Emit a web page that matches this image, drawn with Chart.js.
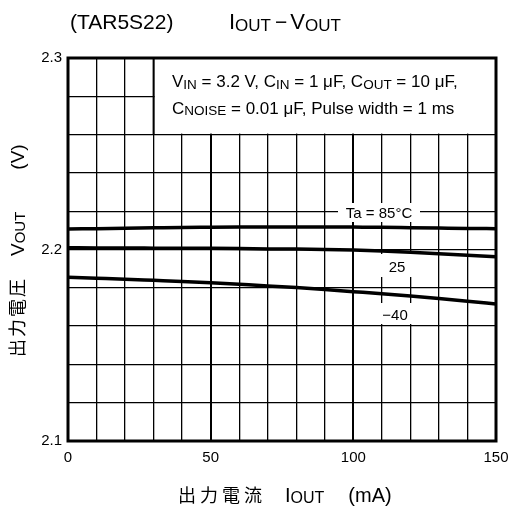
<!DOCTYPE html>
<html><head><meta charset="utf-8">
<script src="https://cdn.jsdelivr.net/npm/chart.js@4.4.1/dist/chart.umd.min.js"></script>
<style>html,body{margin:0;padding:0;background:#fff;overflow:hidden}canvas{display:block}</style>
</head><body>
<canvas id="c" width="510" height="511"></canvas>
<script>
// ---- data ----
const currents = [0,10,20,30,40,50,60,70,80,90,100,110,120,130,140,150]; // mA
const vout85  = [2.2107,2.2109,2.2111,2.2113,2.2115,2.2116,2.2117,2.2118,2.2118,2.2118,2.2117,2.2116,2.2114,2.2112,2.2110,2.2109];
const vout25  = [2.2009,2.2008,2.2008,2.2007,2.2006,2.2006,2.2005,2.2003,2.2002,2.2000,2.1997,2.1992,2.1986,2.1978,2.1970,2.1962];
const voutM40 = [2.1855,2.1850,2.1845,2.1839,2.1833,2.1826,2.1818,2.1810,2.1801,2.1791,2.1780,2.1769,2.1757,2.1744,2.1730,2.1715];
const xTickLabels = [0,50,100,150];
const yTickLabels = [2.1,2.2,2.3];
const seriesLabels = ['Ta = 85°C','25','−40'];

const LS = '"Liberation Sans", Arial, sans-serif';
const CJK = '"Noto Sans CJK JP", sans-serif';

function pts(vals){ return currents.map((x,i)=>({x:x,y:vals[i]})); }

function drawRich(ctx, x, y, segs){
  let cx = x;
  for (const s of segs){
    if (s.gap){ cx += s.gap; continue; }
    ctx.font = s.font;
    ctx.letterSpacing = (s.ls||0)+'px';
    ctx.fillText(s.t, cx, y + (s.dy||0));
    cx += ctx.measureText(s.t).width;
    ctx.letterSpacing = '0px';
  }
  return cx - x;
}

const decor = {
  id:'decor',
  beforeDatasetsDraw(chart){
    const ctx = chart.ctx, a = chart.chartArea;
    const xs = chart.scales.x, ys = chart.scales.y;
    ctx.save();
    ctx.fillStyle = '#fff';
    // condition box
    const bx = xs.getPixelForValue(30), by = ys.getPixelForValue(2.26);
    ctx.fillRect(bx+1, a.top, a.right-bx-1, by-a.top-1);
    ctx.strokeStyle='#000'; ctx.lineWidth=2;
    ctx.beginPath(); ctx.moveTo(bx, a.top); ctx.lineTo(bx, by); ctx.stroke();
    // label backgrounds
    ctx.fillRect(338, 203, 82, 19);
    ctx.fillRect(379, 254, 35, 23);
    ctx.fillRect(379, 303, 35, 21);
    ctx.restore();
  },
  afterDraw(chart){
    const ctx = chart.ctx, a = chart.chartArea;
    ctx.save();
    ctx.strokeStyle = '#000'; ctx.lineWidth = 3;
    ctx.strokeRect(a.left, a.top, a.right-a.left, a.bottom-a.top);
    ctx.fillStyle = '#000';
    ctx.textBaseline = 'alphabetic'; ctx.textAlign = 'left';
    // title
    drawRich(ctx, 70, 29, [{t:'(TAR5S22)', font:'21px '+LS}]);
    drawRich(ctx, 229, 29, [{t:'I', font:'22px '+LS},{t:'OUT', font:'17px '+LS, dy:2},{gap:4},{t:'−', font:'21px '+LS},{gap:3},{t:'V', font:'22px '+LS},{t:'OUT', font:'17px '+LS, dy:2}]);
    // conditions
    const f = '17px '+LS, fs = '13.5px '+LS;
    drawRich(ctx, 172, 87, [{t:'V',font:f},{t:'IN',font:fs,dy:2},{t:' = 3.2 V, C',font:f},{t:'IN',font:fs,dy:2},{t:' = 1 μF, C',font:f},{t:'OUT',font:fs,dy:2},{t:' = 10 μF,',font:f}]);
    drawRich(ctx, 172, 114, [{t:'C',font:f},{t:'NOISE',font:fs,dy:1},{t:' = 0.01 μF, Pulse width = 1 ms',font:f}]);
    // curve labels
    ctx.textAlign = 'center'; ctx.font = '15px '+LS;
    ctx.fillText(seriesLabels[0], 379, 218);
    ctx.fillText(seriesLabels[1], 397, 272);
    ctx.fillText(seriesLabels[2], 395, 320);
    ctx.textAlign = 'left';
    // x axis title
    drawRich(ctx, 178, 502, [{t:'出力電流', font:'18px '+CJK, ls:4},{gap:19},{t:'I', font:'20px '+LS},{t:'OUT', font:'16px '+LS, dy:1},{gap:24},{t:'(mA)', font:'20px '+LS}]);
    // y axis title (rotated)
    ctx.translate(24, 357); ctx.rotate(-Math.PI/2);
    drawRich(ctx, 0, 0, [{t:'出力電圧', font:'18px '+CJK, ls:2},{gap:21},{t:'V', font:'19px '+LS},{t:'OUT', font:'15px '+LS, dy:1},{gap:42},{t:'(V)', font:'19px '+LS}]);
    ctx.restore();
  }
};

const lineDs = (vals) => ({data: pts(vals), borderColor:'#000', borderWidth:3.5, pointRadius:0, cubicInterpolationMode:'monotone', fill:false});

new Chart(document.getElementById('c'), {
  type:'line',
  data:{ datasets:[lineDs(vout85), lineDs(vout25), lineDs(voutM40)] },
  options:{
    responsive:false, animation:false, devicePixelRatio:1,
    layout:{ padding:{top:58, right:14, left:0, bottom:0} },
    plugins:{ legend:{display:false}, tooltip:{enabled:false} },
    scales:{
      x:{ type:'linear', min:0, max:150,
          afterFit(s){ s.height = 70; s.paddingLeft = 0; s.paddingRight = 0; },
          border:{display:false},
          grid:{ color:'#000', drawTicks:false, lineWidth:(c)=> (c.tick && (c.tick.value===50||c.tick.value===100)) ? 2 : 1.3 },
          ticks:{ stepSize:10, maxTicksLimit:20, autoSkip:false, maxRotation:0, padding:8, color:'#000', font:{family:LS, size:15},
                  callback:(v)=> xTickLabels.includes(v) ? String(v) : '' } },
      y:{ type:'linear', min:2.1, max:2.3,
          afterFit(s){ s.width = 68; s.paddingTop = 0; s.paddingBottom = 0; },
          border:{display:false},
          grid:{ color:'#000', drawTicks:false, lineWidth:1.3 },
          ticks:{ stepSize:0.02, maxTicksLimit:20, autoSkip:false, padding:6, color:'#000', font:{family:LS, size:15},
                  callback:(v)=> { const m = yTickLabels.find(t=>Math.abs(t-v)<1e-6); return m!==undefined ? m.toFixed(1) : ''; } } }
    }
  },
  plugins:[decor]
});
</script>
</body></html>
